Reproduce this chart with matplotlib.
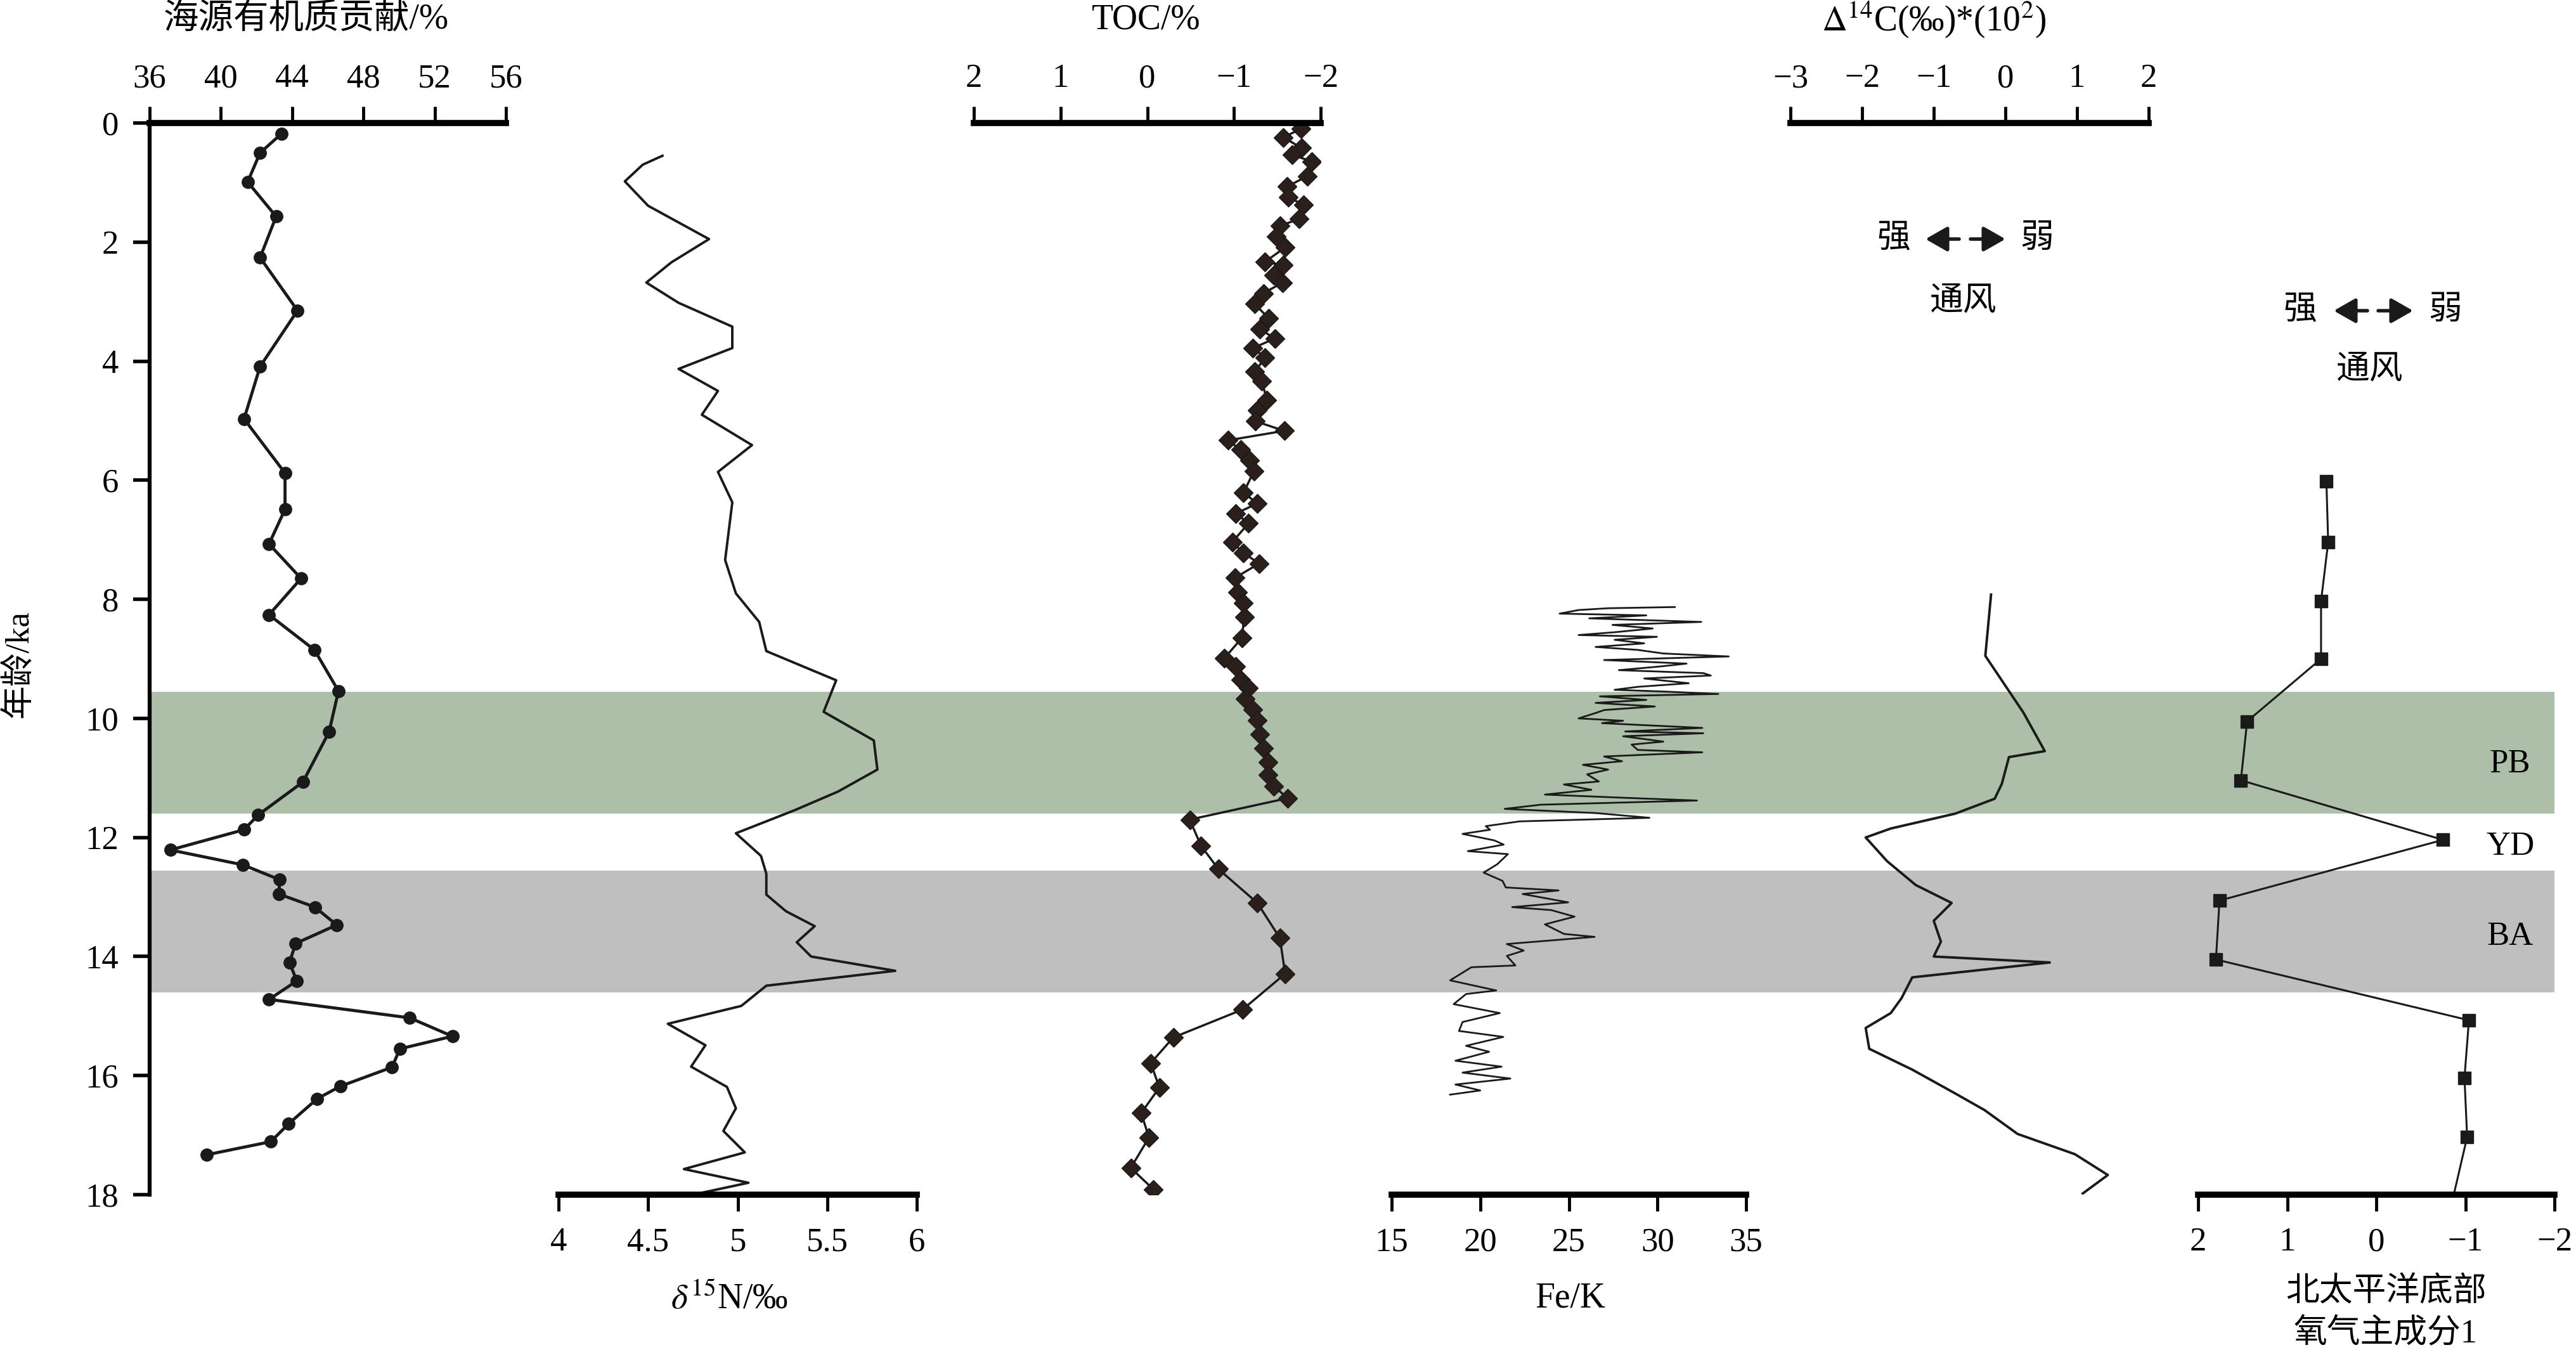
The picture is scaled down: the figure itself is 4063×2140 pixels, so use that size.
import matplotlib.pyplot as plt
import matplotlib.patches as mpatches

plt.rcParams['font.family'] = ['Liberation Serif', 'Noto Sans CJK SC']
plt.rcParams['mathtext.fontset'] = 'stix'

# ---- data (age in ka) ----
marine_age = [0.18, 0.5, 0.99, 1.57, 2.26, 3.15, 4.09, 4.97, 5.88, 6.49, 7.07, 7.65, 8.26,
              8.85, 9.54, 10.23, 11.07, 11.62, 11.87, 12.21, 12.46, 12.71, 12.95, 13.17,
              13.47, 13.78, 14.1, 14.41, 14.72, 15.03, 15.34, 15.55, 15.86, 16.18, 16.39,
              16.81, 17.11, 17.33]
marine_val = [43.4, 42.2, 41.5, 43.1, 42.2, 44.3, 42.2, 41.3, 43.6, 43.6, 42.7, 44.5, 42.7,
              45.25, 46.6, 46.07, 44.6, 42.1, 41.3, 37.16, 41.24, 43.3, 43.25, 45.28,
              46.5, 44.2, 43.85, 44.26, 42.7, 50.6, 53.0, 50.05, 49.6, 46.7, 45.4,
              43.8, 42.8, 39.2]

d15n_age = [0.55, 0.70, 0.98, 1.39, 1.95, 2.34, 2.68, 3.02, 3.42, 3.78, 4.13, 4.50, 4.90,
            5.41, 5.86, 6.37, 7.34, 7.90, 8.38, 8.87, 9.36, 9.89, 10.37, 10.86, 11.23,
            11.54, 11.93, 12.31, 12.61, 12.96, 13.24, 13.49, 13.76, 14.0, 14.24, 14.49,
            14.83, 15.13, 15.49, 15.85, 16.19, 16.55, 16.93, 17.29, 17.57, 17.8, 18.0]
d15n_val = [4.58, 4.47, 4.37, 4.50, 4.84, 4.63, 4.49, 4.67, 4.97, 4.97, 4.67, 4.89, 4.80,
            5.08, 4.89, 4.97, 4.93, 4.99, 5.12, 5.16, 5.55, 5.48, 5.76, 5.78, 5.56,
            5.32, 4.99, 5.13, 5.16, 5.16, 5.27, 5.43, 5.33, 5.41, 5.88, 5.16,
            5.02, 4.61, 4.82, 4.74, 4.94, 4.99, 4.92, 5.04, 4.70, 5.06, 4.75]

toc_age = [0.1, 0.24, 0.42, 0.53, 0.65, 0.89, 1.07, 1.25, 1.37, 1.61, 1.73, 1.91, 2.09,
           2.33, 2.39, 2.56, 2.68, 2.86, 3.04, 3.28, 3.46, 3.62, 3.78, 3.94, 4.18, 4.33,
           4.65, 4.83, 5.01, 5.17, 5.33, 5.49, 5.67, 5.85, 6.21, 6.39, 6.56, 6.72, 7.04,
           7.22, 7.40, 7.64, 7.88, 8.06, 8.30, 8.65, 8.99, 9.13, 9.35, 9.49, 9.67, 9.85,
           10.03, 10.27, 10.50, 10.74, 10.95, 11.14, 11.34, 11.70, 12.14, 12.53, 13.10,
           13.69, 14.29, 14.89, 15.36, 15.79, 16.20, 16.63, 17.04, 17.55, 17.91]
toc_val = [-1.77, -1.57, -1.78, -1.67, -1.90, -1.85, -1.61, -1.63, -1.80, -1.75, -1.53,
           -1.49, -1.59, -1.36, -1.57, -1.46, -1.56, -1.34, -1.24, -1.40, -1.30, -1.47,
           -1.22, -1.36, -1.24, -1.32, -1.38, -1.27, -1.25, -1.58, -0.93, -1.08, -1.18,
           -1.23, -1.11, -1.27, -1.02, -1.17, -0.98, -1.11, -1.29, -1.01, -1.04, -1.11,
           -1.12, -1.09, -0.89, -1.02, -1.08, -1.17, -1.13, -1.22, -1.27, -1.30, -1.34,
           -1.39, -1.39, -1.46, -1.62, -0.49, -0.62, -0.82, -1.27, -1.53, -1.59, -1.10,
           -0.30, -0.04, -0.14, 0.07, -0.02, 0.19, -0.07]

fek_age = [8.13, 8.15, 8.18, 8.24, 8.27, 8.32, 8.38, 8.43, 8.49, 8.55, 8.60, 8.63, 8.68,
           8.74, 8.80, 8.85, 8.91, 8.96, 9.02, 9.08, 9.13, 9.19, 9.24, 9.28, 9.33, 9.41,
           9.47, 9.52, 9.55, 9.59, 9.63, 9.69, 9.74, 9.80, 9.86, 9.91, 10.00, 10.04,
           10.08, 10.16, 10.22, 10.25, 10.30, 10.39, 10.44, 10.53, 10.57, 10.64, 10.72,
           10.78, 10.86, 10.94, 11.06, 11.11, 11.20, 11.28, 11.34, 11.38, 11.45, 11.52,
           11.59, 11.67, 11.73, 11.81, 11.87, 11.94, 12.05, 12.12, 12.23, 12.28, 12.45,
           12.59, 12.73, 12.84, 12.89, 12.95, 13.09, 13.17, 13.22, 13.33, 13.46, 13.62,
           13.67, 13.79, 13.90, 13.99, 14.15, 14.18, 14.4, 14.57, 14.63, 14.8, 14.95,
           15.1, 15.25, 15.35, 15.5, 15.6, 15.75, 15.85, 15.95, 16.05, 16.15, 16.25, 16.32]
fek_val = [30.98, 27.22, 25.55, 24.48, 29.37, 26.15, 32.47, 27.46, 29.73, 27.70, 25.55,
           29.97, 27.58, 29.25, 26.51, 28.89, 30.33, 34.02, 26.99, 31.64, 30.09, 27.82,
           32.59, 33.01, 29.25, 31.76, 28.89, 27.58, 30.44, 33.43, 26.75, 29.37, 26.51,
           29.85, 26.99, 26.51, 25.55, 28.06, 26.87, 32.53, 28.18, 32.59, 28.06, 30.33,
           28.54, 28.89, 32.53, 26.99, 28.0, 25.79, 27.22, 26.03, 26.69, 24.72, 26.27,
           23.65, 28.66, 32.23, 23.41, 21.38, 26.51, 29.55, 22.22, 20.31, 20.55, 19.0,
           20.8, 21.32, 19.3, 21.56, 20.96, 20.19, 21.26, 21.44, 24.42, 22.39, 24.96,
           21.80, 24.0, 25.32, 23.65, 24.72, 26.45, 21.5, 22.45, 21.5, 21.98, 19.5, 18.3,
           20.9, 19.2, 18.5, 21.1, 19.0, 18.8, 21.3, 19.2, 20.5, 18.6, 21.2, 19.0, 21.7,
           18.6, 20.0, 18.3]

c14_age = [7.92, 8.95, 9.90, 10.55, 10.65, 11.1, 11.35, 11.6, 11.85, 12.0, 12.4, 12.8,
           13.1, 13.4, 13.75, 14.0, 14.1, 14.35, 14.7, 14.95, 15.2, 15.55, 15.9, 16.3,
           16.58, 16.98, 17.32, 17.67, 17.98]
c14_val = [-0.20, -0.28, 0.25, 0.55, 0.05, -0.05, -0.15, -0.7, -1.6, -1.95, -1.65, -1.25,
           -0.75, -1.0, -0.9, -1.0, 0.62, -1.3, -1.45, -1.6, -1.95, -1.9, -1.3, -0.7,
           -0.29, 0.17, 0.97, 1.43, 1.08]

pc1_age = [6.02, 7.04, 8.03, 9.0, 10.05, 11.04, 12.04, 13.06, 14.05, 15.07, 16.04, 17.03, 18.0]
pc1_val = [0.56, 0.54, 0.62, 0.62, 1.45, 1.52, -0.75, 1.76, 1.80, -1.04, -0.99, -1.02, -0.87]

bands = [(9.55, 11.6, '#adbfa9'), (12.56, 14.6, '#bfbfbf')]
band_labels = [('PB', 10.77), ('YD', 12.15), ('BA', 13.67)]

W, H = 4063, 2140
TOP, BOT = 194, 1884  # pixel rows of age 0 and age 18
ink = '#1a1a1a'


def fx(px):
    return px / W


def fy(py):
    return 1 - py / H


def age_px(a):
    return TOP + a * (BOT - TOP) / 18.0


fig = plt.figure(figsize=(W / 100, H / 100), dpi=100)

# background axes: bands + age axis
bg = fig.add_axes([fx(236), fy(BOT), fx(4029 - 236), (BOT - TOP) / H])
bg.set_xlim(0, 1)
bg.set_ylim(18, 0)
for a0, a1, c in bands:
    bg.axhspan(a0, a1, color=c, lw=0, zorder=0)
for s in ['top', 'right', 'bottom']:
    bg.spines[s].set_visible(False)
bg.spines['left'].set_linewidth(4.5)
bg.set_xticks([])
bg.set_yticks(range(0, 19, 2))
bg.tick_params(axis='y', direction='out', length=19, width=4, labelsize=38, pad=16)
bg.set_zorder(0)


def panel(x0, x1, xlim, ticks, side, labels=None):
    ax = fig.add_axes([fx(x0), fy(BOT), fx(x1 - x0), (BOT - TOP) / H])
    ax.set_xlim(*xlim)
    ax.set_ylim(18, 0)
    ax.patch.set_visible(False)
    for s in ax.spines.values():
        s.set_visible(False)
    ax.spines[side].set_visible(True)
    ax.spines[side].set_linewidth(7)
    ax.yaxis.set_visible(False)
    ax.xaxis.set_ticks_position(side)
    ax.xaxis.set_label_position(side)
    ax.set_xticks(ticks)
    if labels is not None:
        ax.set_xticklabels(labels)
    ax.tick_params(axis='x', direction='out', length=19, width=3.5, labelsize=38,
                   pad=14 if side == 'top' else 18)
    ax.set_zorder(2)
    return ax


ax1 = panel(236, 798, (36, 56), [36, 40, 44, 48, 52, 56], 'top')
ax1.plot(marine_val, marine_age, '-o', color=ink, lw=3.5, ms=14, clip_on=False)

ax2 = panel(881, 1446, (4, 6), [4, 4.5, 5, 5.5, 6], 'bottom', ['4', '4.5', '5', '5.5', '6'])
ax2.plot(d15n_val, d15n_age, '-', color=ink, lw=2.8)

ax3 = panel(1536, 2083, (2, -2), [2, 1, 0, -1, -2], 'top')
ax3.plot(toc_val, toc_age, '-D', color=ink, lw=2.5, ms=15, mfc='#2b1f1b', mec=ink, mew=1)

ax4 = panel(2195, 2754, (15, 35), [15, 20, 25, 30, 35], 'bottom')
ax4.plot(fek_val, fek_age, '-', color=ink, lw=2)

ax5 = panel(2824, 3389, (-3, 2), [-3, -2, -1, 0, 1, 2], 'top')
ax5.plot(c14_val, c14_age, '-', color=ink, lw=2.8)

ax6 = panel(3467, 4029, (2, -2), [2, 1, 0, -1, -2], 'bottom')
ax6.plot(pc1_val, pc1_age, '-', color=ink, lw=2.2)
ax6.plot(pc1_val[:-1], pc1_age[:-1], 's', color=ink, ms=15)

# titles and axis labels
fig.text(fx(483), fy(31), '海源有机质贡献/%', fontsize=40, ha='center', va='center')
fig.text(fx(1808), fy(31), 'TOC/%', fontsize=40, ha='center', va='center')
fig.text(fx(3050), fy(31), r'$\Delta^{14}$C(‰)*(10$^{2}$)', fontsize=40, ha='center', va='center')
fig.text(fx(1150), fy(2050), r'$\delta^{15}$N/‰', fontsize=40, ha='center', va='center')
fig.text(fx(2477), fy(2048), 'Fe/K', fontsize=40, ha='center', va='center')
fig.text(fx(3763), fy(2038), '北太平洋底部', fontsize=38, ha='center', va='center')
fig.text(fx(3763), fy(2104), '氧气主成分1', fontsize=38, ha='center', va='center')
fig.text(fx(30), fy(1047), '年龄/ka', fontsize=38, ha='center', va='center', rotation=90)

for name, a in band_labels:
    fig.text(fx(3959), fy(age_px(a)), name, fontsize=38, ha='center', va='center')


# ventilation arrows
def vent(xs, xw, xl0, xl1, xr0, xr1, xt, y, yt):
    fig.text(fx(xs), fy(y), '强', fontsize=38, ha='center', va='center')
    fig.text(fx(xw), fy(y), '弱', fontsize=38, ha='center', va='center')
    fig.text(fx(xt), fy(yt), '通风', fontsize=38, ha='center', va='center')
    for a, b in [(xl1, xl0), (xr0, xr1)]:
        arr = mpatches.FancyArrowPatch((fx(a), fy(y)), (fx(b), fy(y)), transform=fig.transFigure,
                                       arrowstyle='-|>,head_length=0.7,head_width=0.4',
                                       mutation_scale=30, lw=4, color=ink,
                                       shrinkA=0, shrinkB=0)
        fig.add_artist(arr)


vent(2987, 3213, 3037, 3090, 3108, 3163, 3097, 377, 475)
vent(3628, 3857, 3681, 3734, 3751, 3806, 3738, 490, 583)

fig.savefig('out.png', dpi=100)
